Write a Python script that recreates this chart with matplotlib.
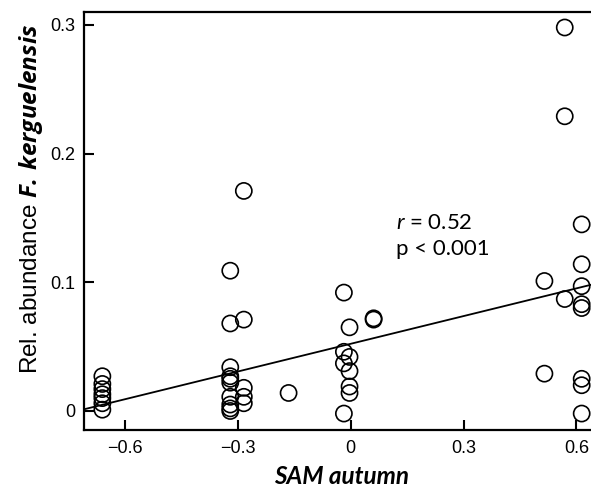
import numpy as np
import matplotlib
matplotlib.use("Agg")
import matplotlib.pyplot as plt

# ── Data ───────────────────────────────────────────────────────────────────
sam_autumn = (
    [-0.66] * 7
    + [-0.32] * 10
    + [-0.284] * 5
    + [-0.165]
    + [-0.018] * 4
    + [-0.003] * 5
    + [0.061] * 2
    + [0.515] * 2
    + [0.569] * 3
    + [0.614] * 8
)
rel_abundance = (
    [0.027, 0.021, 0.017, 0.013, 0.010, 0.006, 0.001]
    + [0.109, 0.068, 0.034, 0.027, 0.025, 0.022, 0.011, 0.005, 0.002, 0.000]
    + [0.171, 0.071, 0.018, 0.011, 0.006]
    + [0.014]
    + [0.092, 0.046, 0.037, -0.002]
    + [0.065, 0.042, 0.031, 0.019, 0.014]
    + [0.072, 0.071]
    + [0.101, 0.029]
    + [0.298, 0.229, 0.087]
    + [0.145, 0.114, 0.097, 0.083, 0.080, 0.025, 0.020, -0.002]
)
# regression line as drawn in the reference
fit_slope = 0.0718
fit_intercept = 0.0522

x_ticks = [-0.6, -0.3, 0, 0.3, 0.6]
x_ticklabels = ["\u22120.6", "\u22120.3", "0", "0.3", "0.6"]
y_ticks = [0, 0.1, 0.2, 0.3]
y_ticklabels = ["0", "0.1", "0.2", "0.3"]
stats_text = "$\\mathit{r}$ = 0.52\np < 0.001"

plt.rcParams.update({
    "font.family": "Liberation Sans",
    "mathtext.fontset": "custom",
    "mathtext.rm": "Lato",
    "mathtext.it": "Lato:italic",
    "mathtext.bfit": "Open Sans:bold:italic",
})

# ── Figure ────────────────────────────────────────────────────────────────
fig = plt.figure(figsize=(5.91, 4.90), dpi=100)
ax = fig.add_axes([0.142, 0.1224, 0.8715, 0.853])

x = np.array(sam_autumn)
y = np.array(rel_abundance)
ax.scatter(x, y, s=135, facecolors="none", edgecolors="black",
           linewidths=1.2, zorder=3, clip_on=False)

xlim = (-0.709, 0.66)
xf = np.array(xlim)
ax.plot(xf, fit_intercept + fit_slope * xf, color="black", linewidth=1.3,
        zorder=2)

ax.set_xlim(*xlim)
ax.set_ylim(-0.0148, 0.310)

ax.set_xticks(x_ticks)
ax.set_xticklabels(x_ticklabels)
ax.set_yticks(y_ticks)
ax.set_yticklabels(y_ticklabels)
ax.tick_params(direction="in", length=7, width=1.5, labelsize=13,
               colors="black", pad=6)
ax.tick_params(axis="x", pad=7)

for side in ["left", "bottom", "top"]:
    ax.spines[side].set_linewidth(1.6)
ax.spines["right"].set_visible(False)

ax.set_xlabel("SAM autumn", fontsize=17.5, fontweight="bold", style="italic",
              family="Lato", labelpad=6)
ax.set_ylabel("Rel. abundance $\\mathbfit{F.\\:kerguelensis}$", fontsize=17.5,
              labelpad=4, y=0.553)

ax.text(0.12, 0.136, stats_text, fontsize=16, family="Lato",
        va="center", ha="left", linespacing=1.4)

fig.savefig("out.png", dpi=100)
